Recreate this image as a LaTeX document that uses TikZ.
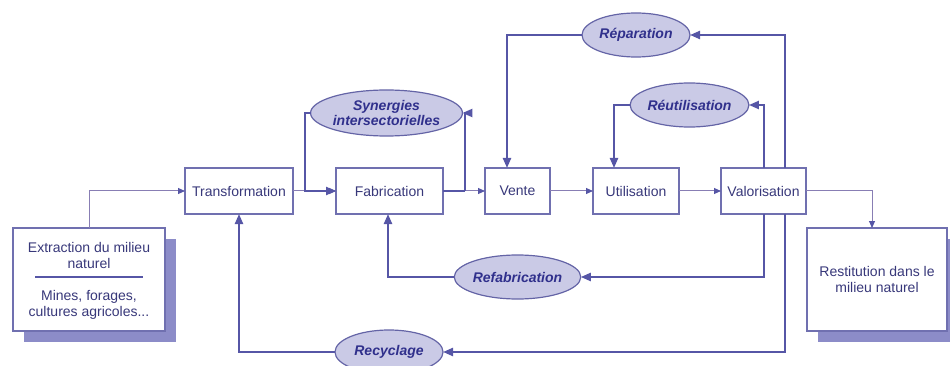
\documentclass[tikz,border=0pt]{standalone}
\usepackage{fontspec}
\setmainfont{Liberation Sans}
\usetikzlibrary{arrows.meta,shadows,shapes.geometric}
\definecolor{flowline}{RGB}{86,86,166}
\definecolor{thinline}{RGB}{136,126,180}
\definecolor{boxedge}{RGB}{112,112,176}
\definecolor{boxtext}{RGB}{56,56,122}
\definecolor{loopfill}{RGB}{202,202,230}
\definecolor{loopedge}{RGB}{100,100,166}
\definecolor{looptext}{RGB}{48,48,140}
\definecolor{shadowc}{RGB}{140,140,200}
\tikzset{
  x=1pt, y=-1pt,
  every node/.style={inner sep=0pt, outer sep=0pt},
  stagebox/.style={draw=boxedge, line width=1.4pt, fill=white, rectangle,
    minimum height=46pt, text=boxtext, font=\fontsize{14}{16}\selectfont},
  endbox/.style={stagebox, minimum width=#1, minimum height=103pt,
    general shadow={fill=shadowc, shadow xshift=11pt, shadow yshift=-11pt}},
  loopnode/.style={ellipse, draw=loopedge, line width=1.2pt, fill=loopfill,
    minimum width=108pt, minimum height=44pt, text=looptext, align=center,
    font=\fontsize{14}{15}\selectfont\bfseries\itshape},
  boxlabel/.style={text=boxtext, align=center, font=\fontsize{14}{16}\selectfont},
  thickflow/.style={draw=flowline, line width=2.2pt, -{Triangle[length=10pt,width=8pt]}},
  thinflow/.style={draw=thinline, line width=1pt,
    -{Triangle[length=7pt,width=6pt,color=flowline]}},
  plainthick/.style={draw=flowline, line width=2.2pt},
}
\begin{document}
\begin{tikzpicture}
\useasboundingbox (0,0) rectangle (950,366);

% main chain of stages
\node[stagebox, minimum width=108pt] (transf) at (239,191) {Transformation};
\node[stagebox, minimum width=107pt] (fabric) at (389.5,191) {Fabrication};
\node[stagebox, minimum width=65pt] (vente) at (517.5,191) {Vente};
\node[stagebox, minimum width=86pt] (utilis) at (636,191) {Utilisation};
\node[stagebox, minimum width=85pt] (valor) at (763.5,191) {Valorisation};

% source and sink boxes
\node[endbox=152pt] (extract) at (89,279.5) {};
\node[boxlabel] (extracttop) at (89,255) {Extraction du milieu\\naturel};
\node[boxlabel] (extractbot) at (89,305) {Mines, forages,\\cultures agricoles...};
\draw[draw=flowline, line width=1.2pt] (35,277) coordinate (sepL) -- (143,277) coordinate (sepR);
\node[endbox=140pt] (restit) at (877,279.5) {};
\node[boxlabel] (restittext) at (877,279.5) {Restitution dans le\\milieu naturel};

% loop labels
\node[loopnode, minimum width=129pt, minimum height=46pt] (synerg) at (386.5,113) {Synergies\\intersectorielles};
\node[loopnode] (repar) at (636,35) {Réparation};
\node[loopnode, minimum width=107pt] (reutil) at (689.5,105) {Réutilisation};
\node[loopnode, minimum width=109pt] (refab) at (517.5,277) {Refabrication};
\node[loopnode] (recyc) at (389,352) {Recyclage};

% forward flow
\draw[thinflow] (extract.north) |- (transf.west);
\draw[thinflow] (transf) -- (fabric);
\draw[thinflow] (fabric) -- (vente);
\draw[thinflow] (vente) -- (utilis);
\draw[thinflow] (utilis) -- (valor);
\draw[thinflow] (valor.east) -| (restit.north -| 872,0);

% synergy loop around fabrication
\draw[plainthick] (fabric.east) -- (465,191) coordinate (synR);
\draw[thickflow] (synR) |- (synerg.east);
\draw[thickflow] (synerg.west) -| (305,191) coordinate (synL) -- (fabric.west);

% reparation loop
\draw[thickflow] (valor.north -| 785,0) |- (repar.east);
\draw[thickflow] (repar.west) -| (vente.north -| 507,0);

% reuse loop
\draw[thickflow] (valor.north -| 764,0) |- (reutil.east);
\draw[thickflow] (reutil.west) -| (utilis.north -| 614,0);

% remanufacturing loop
\draw[thickflow] (valor.south -| 764,0) |- (refab.east);
\draw[thickflow] (refab.west) -| (fabric.south -| 388,0);

% recycling loop
\draw[thickflow] (valor.south -| 785,0) |- (recyc.east);
\draw[thickflow] (recyc.west) -| (transf.south);
\end{tikzpicture}
\end{document}
